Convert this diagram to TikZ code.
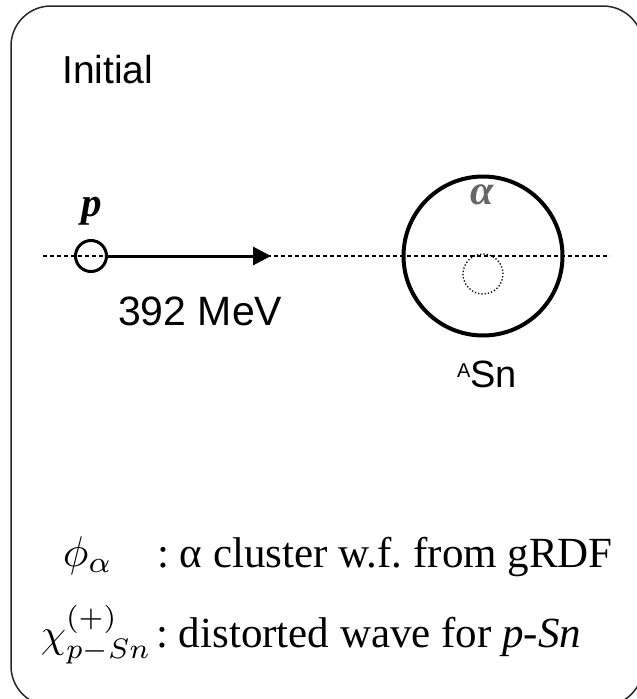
\documentclass[tikz,border=0pt]{standalone}
\usepackage{fontspec}
\setmainfont{Liberation Serif}
\newfontfamily\arialf{Liberation Sans}
\usetikzlibrary{arrows.meta}
\frenchspacing
\begin{document}
\begin{tikzpicture}[x=1pt,y=-1pt,
  frame/.style={draw=black!85,line width=1.5pt,rounded corners=40pt},
  sanslabel/.style={font=\arialf\fontsize{39}{45}\selectfont,inner sep=0pt},
  axisline/.style={line width=1.5pt,dash pattern=on 4pt off 3pt},
  particle/.style={circle,draw,line width=3pt,minimum size=31pt,inner sep=0pt},
  nucleus/.style={circle,draw,line width=4pt,minimum size=159pt,inner sep=0pt},
  cluster/.style={circle,draw,line width=1.3pt,dotted,minimum size=40pt,inner sep=0pt},
  legend/.style={font=\fontsize{43}{48}\selectfont,inner sep=0pt,anchor=base west},
  mathlegend/.style={font=\fontsize{10}{12}\selectfont,inner sep=0pt,anchor=base west,scale=4.3}]
\useasboundingbox (0,0) rectangle (637,699);
\clip (0,0) rectangle (637,699);
\draw[frame] (11,6) rectangle (643,706);
\node[sanslabel,anchor=base west] (title) at (62,83) {Initial};
% axis
\coordinate (axl) at (43,256);
\coordinate (axr) at (610,256);
\draw[axisline] (axl) -- (axr);
% proton
\node[particle] (p) at (91,256) {};
\node[inner sep=0pt,anchor=base,font=\fontsize{41}{45}\selectfont\bfseries\itshape] (plabel) at (92,216) {p};
\coordinate (arrowend) at (271,256);
\draw[line width=3pt,-{Triangle[length=18pt,width=18pt]}] (p.east) -- (arrowend);
\node[sanslabel,anchor=base west,font=\arialf\fontsize{41}{45}\selectfont] (energy) at (118,325) {392 MeV};
% nucleus
\node[nucleus] (sn) at (483,256) {};
\node[cluster] (alphac) at (483,274) {};
\node[inner sep=0pt,anchor=base,text=black!60,font=\fontsize{42}{45}\selectfont\bfseries\itshape] (alabel) at (482,204) {α};
\node[sanslabel,anchor=base west,font=\arialf\fontsize{38}{45}\selectfont] (snlabel) at (457,387) {\raisebox{10pt}{\fontsize{20}{22}\selectfont A}Sn};
% legend
\node[mathlegend] (phi) at (62,566) {$\phi_\alpha$};
\node[legend] (phitext) at (157,567) {: α cluster w.f. from gRDF};
\node[mathlegend,scale=0.94] (chi) at (40,647) {$\chi^{(+)}_{p{-}Sn}$};
\node[legend] (chitext) at (156,647) {: distorted wave for \textit{p-Sn}};
\end{tikzpicture}
\end{document}
